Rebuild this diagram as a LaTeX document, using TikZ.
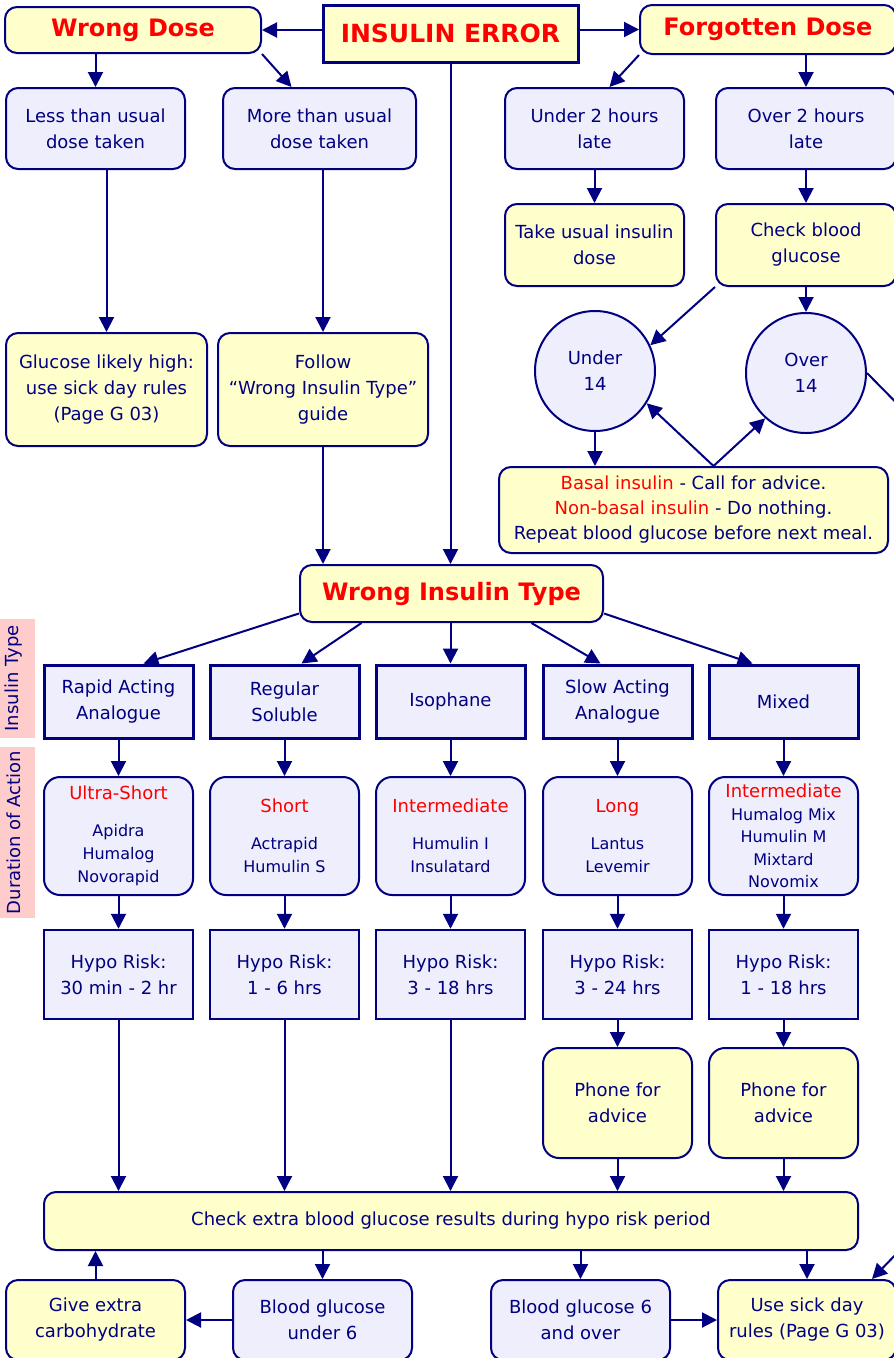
\documentclass[tikz,border=0pt]{standalone}
\usepackage{fontspec}
\setmainfont{DejaVu Sans}
\usepackage{tikz}
\usetikzlibrary{arrows.meta}
\usetikzlibrary{shapes.geometric}
\usetikzlibrary{calc}
\definecolor{NavyLine}{HTML}{000080}
\definecolor{PaleYellow}{HTML}{FFFFCC}
\definecolor{PaleLilac}{HTML}{EEEEFC}
\definecolor{PalePink}{HTML}{FFCCCC}
\colorlet{HeadRed}{red}

\tikzset{
  base/.style={draw=NavyLine, text=NavyLine, align=center, inner sep=0pt,
    font=\fontsize{18}{26}\selectfont},
  boxsize/.style 2 args={minimum width=#1pt, minimum height=#2pt},
  yelbox/.style={base, fill=PaleYellow, rounded corners=12pt, line width=2pt},
  lilbox/.style={base, fill=PaleLilac, rounded corners=12pt, line width=2pt},
  durbox/.style={base, fill=PaleLilac, rounded corners=16pt, line width=2pt,
    font=\fontsize{16}{23}\selectfont},
  typebox/.style={base, fill=PaleLilac, line width=3pt},
  riskbox/.style={base, fill=PaleLilac, line width=2.5pt},
  roundbox/.style={base, fill=PaleLilac, circle, minimum size=120pt, line width=2pt},
  headtext/.style={text=HeadRed, font=\fontsize{24}{28}\selectfont\bfseries},
  sidelabel/.style={fill=PalePink, text=NavyLine, rotate=90, inner sep=0pt,
    font=\fontsize{18}{22}\selectfont},
  arr/.style={draw=NavyLine, line width=2pt, -{Triangle[length=15pt, width=15pt]}},
}

\newcommand{\hl}[1]{{\color{HeadRed}#1}}

\begin{document}
\begin{tikzpicture}[x=1pt, y=-1pt]

\useasboundingbox (0,0) rectangle (894,1358);

% The grid
% \draw[step=50, gray!40, very thin] (0,0) grid (894,1358);

% Top row
\node[yelbox, boxsize={256}{46}, headtext] (wrongdose) at (133,30) {Wrong Dose};
\node[typebox, fill=PaleYellow, boxsize={255}{57}, headtext,
  font=\fontsize{25}{28}\selectfont\bfseries] (error) at (450.5,33.5) {INSULIN ERROR};
\node[yelbox, boxsize={256}{49}, headtext] (forgotten) at (768,29.5) {Forgotten Dose};

\draw[arr] (wrongdose.east -| error.west) -- (wrongdose.east);
\draw[arr] (forgotten.west -| error.east) -- (forgotten.west);

% Wrong dose branch
\node[lilbox, boxsize={179}{81}] (less) at (95.5,128.5) {Less than usual\\dose taken};
\node[lilbox, boxsize={193}{81}] (more) at (319.5,128.5) {More than usual\\dose taken};
\node[yelbox, boxsize={201}{113}] (likelyhigh) at (106.5,389.5)
  {Glucose likely high:\\use sick day rules\\(Page G 03)};
\node[yelbox, boxsize={210}{113}] (follow) at (323,389.5)
  {Follow\\“Wrong Insulin Type”\\guide};

\draw[arr] (wrongdose.south -| less.north) -- (less.north);
\draw[arr] (wrongdose.south east) -- ([xshift=-28pt]more.north);
\draw[arr] (less.south -| likelyhigh.north) -- (likelyhigh.north);
\draw[arr] (more.south -| follow.north) -- (follow.north);

% Forgotten dose branch
\node[lilbox, boxsize={179}{81}] (under2) at (594.5,128.5) {Under 2 hours\\late};
\node[lilbox, boxsize={180}{81}] (over2) at (806,128.5) {Over 2 hours\\late};
\node[yelbox, boxsize={179}{82}] (takeusual) at (594.5,245) {Take usual insulin\\dose};
\node[yelbox, boxsize={180}{82}] (checkbg) at (806,245) {Check blood\\glucose};

\draw[arr] (forgotten.south west) -- ([xshift=15pt]under2.north);
\draw[arr] (over2.north |- forgotten.south) -- (over2.north);
\draw[arr] (under2.south) -- (takeusual.north);
\draw[arr] (over2.south) -- (checkbg.north);

% Under / over 14
\node[roundbox] (under14) at (595,371) {Under\\14};
\node[roundbox] (over14) at (806,373) {Over\\14};
\node[yelbox, boxsize={389}{86}, font=\fontsize{18}{25}\selectfont] (basal) at (693.5,510)
  {\hl{Basal insulin} - Call for advice.\\
   \hl{Non-basal insulin} - Do nothing.\\
   Repeat blood glucose before next meal.};

\draw[arr] (checkbg.south west) -- (under14.25);
\draw[arr] (checkbg.south) -- (over14.north);
\draw[arr] (under14.south) -- (under14.south |- basal.north);
\draw[arr] ([xshift=20pt]basal.north) -- (under14.-32);
\draw[arr] ([xshift=20pt]basal.north) -- (over14.-132);

% over 14 runs off the page and back to the sick day rules
\coordinate (offtop) at (930,437);
\coordinate (offbot) at (930,1219);

% Wrong insulin type
\node[yelbox, boxsize={303}{57}, headtext] (wrongtype) at (451.5,593.5) {Wrong Insulin Type};

\draw[arr] (follow.south) -- (follow.south |- wrongtype.north);
\draw[arr] (error.south) -- (error.south |- wrongtype.north);

% Side labels
\node[sidelabel, boxsize={119}{42}] (lbltype) at (14,678.5) {Insulin Type};
\node[sidelabel, boxsize={171}{42}] (lblaction) at (14,832.5) {Duration of Action};

\def \yType {701.5}
\def \yDur  {836}
\def \yRisk {974.5}
\def \yPhone {1103}

% Insulin type row
\node[typebox, boxsize={149}{73}] (rapid) at (118.5,\yType) {Rapid Acting\\Analogue};
\node[typebox, boxsize={149}{73}] (regular) at (284.5,\yType) {Regular\\Soluble};
\node[typebox, boxsize={149}{73}] (isophane) at (450.5,\yType) {Isophane};
\node[typebox, boxsize={149}{73}] (slow) at (617.5,\yType) {Slow Acting\\Analogue};
\node[typebox, boxsize={149}{73}] (mixed) at (783.5,\yType) {Mixed};

\draw[arr] ([yshift=-20pt]wrongtype.west) -- ([xshift=25pt]rapid.north);
\draw[arr] ([xshift=-90pt]wrongtype.south) -- ([xshift=17pt]regular.north);
\draw[arr] (isophane.north |- wrongtype.south) -- (isophane.north);
\draw[arr] ([xshift=80pt]wrongtype.south) -- ([xshift=-17pt]slow.north);
\draw[arr] ([yshift=-20pt]wrongtype.east) -- ([xshift=-31pt]mixed.north);

% Duration of action row
\node[durbox, boxsize={149}{118}] (ultrashort) at (118.5,\yDur)
  {{\fontsize{18}{23}\selectfont\hl{Ultra-Short}}\\[14pt]Apidra\\Humalog\\Novorapid};
\node[durbox, boxsize={149}{118}] (short) at (284.5,\yDur)
  {{\fontsize{18}{23}\selectfont\hl{Short}}\\[14pt]Actrapid\\Humulin S};
\node[durbox, boxsize={149}{118}] (intermed) at (450.5,\yDur)
  {{\fontsize{18}{23}\selectfont\hl{Intermediate}}\\[14pt]Humulin I\\Insulatard};
\node[durbox, boxsize={149}{118}] (long) at (617.5,\yDur)
  {{\fontsize{18}{23}\selectfont\hl{Long}}\\[14pt]Lantus\\Levemir};
\node[durbox, boxsize={149}{118}, font=\fontsize{16}{22.5}\selectfont] (mixdur) at (783.5,\yDur)
  {{\fontsize{18}{22.5}\selectfont\hl{Intermediate}}\\Humalog Mix\\Humulin M\\Mixtard\\Novomix};

\draw[arr] (rapid.south) -- (ultrashort.north);
\draw[arr] (regular.south) -- (short.north);
\draw[arr] (isophane.south) -- (intermed.north);
\draw[arr] (slow.south) -- (long.north);
\draw[arr] (mixed.south) -- (mixdur.north);

% Hypo risk row
\node[riskbox, boxsize={149}{89}] (hyporapid) at (118.5,\yRisk) {Hypo Risk:\\30 min - 2 hr};
\node[riskbox, boxsize={149}{89}] (hyporegular) at (284.5,\yRisk) {Hypo Risk:\\1 - 6 hrs};
\node[riskbox, boxsize={149}{89}] (hypoiso) at (450.5,\yRisk) {Hypo Risk:\\3 - 18 hrs};
\node[riskbox, boxsize={149}{89}] (hyposlow) at (617.5,\yRisk) {Hypo Risk:\\3 - 24 hrs};
\node[riskbox, boxsize={149}{89}] (hypomixed) at (783.5,\yRisk) {Hypo Risk:\\1 - 18 hrs};

\draw[arr] (ultrashort.south) -- (hyporapid.north);
\draw[arr] (short.south) -- (hyporegular.north);
\draw[arr] (intermed.south) -- (hypoiso.north);
\draw[arr] (long.south) -- (hyposlow.north);
\draw[arr] (mixdur.south) -- (hypomixed.north);

% Phone for advice
\node[yelbox, boxsize={149}{110}, rounded corners=16pt] (phoneslow) at (617.5,\yPhone) {Phone for\\advice};
\node[yelbox, boxsize={149}{110}, rounded corners=16pt] (phonemixed) at (783.5,\yPhone) {Phone for\\advice};

\draw[arr] (hyposlow.south) -- (phoneslow.north);
\draw[arr] (hypomixed.south) -- (phonemixed.north);

% Check extra blood glucose
\node[yelbox, boxsize={814}{58}] (checkextra) at (451,1221)
  {Check extra blood glucose results during hypo risk period};

\draw[arr] (hyporapid.south) -- (hyporapid.south |- checkextra.north);
\draw[arr] (hyporegular.south) -- (hyporegular.south |- checkextra.north);
\draw[arr] (hypoiso.south) -- (hypoiso.south |- checkextra.north);
\draw[arr] (phoneslow.south) -- (phoneslow.south |- checkextra.north);
\draw[arr] (phonemixed.south) -- (phonemixed.south |- checkextra.north);

% Bottom row
\node[yelbox, boxsize={179}{80}] (giveextra) at (95.5,1320) {Give extra\\carbohydrate};
\node[lilbox, boxsize={179}{80}] (under6) at (322.5,1320) {Blood glucose\\under 6};
\node[lilbox, boxsize={179}{80}] (over6) at (580.5,1320) {Blood glucose 6\\and over};
\node[yelbox, boxsize={178}{80}] (sickday) at (807,1320) {Use sick day\\rules (Page G 03)};

\draw[arr] (under6.north |- checkextra.south) -- (under6.north);
\draw[arr] (over6.north |- checkextra.south) -- (over6.north);
\draw[arr] (sickday.north |- checkextra.south) -- (sickday.north);
\draw[arr] (giveextra.north) -- (giveextra.north |- checkextra.south);
\draw[arr] (under6.west) -- (giveextra.east);
\draw[arr] (over6.east) -- (sickday.west);

%line from over 14 round the right edge
\draw[arr] (over14.east) -- (offtop) -- (offbot) -- ([xshift=65pt]sickday.north);

\end{tikzpicture}
\end{document}
